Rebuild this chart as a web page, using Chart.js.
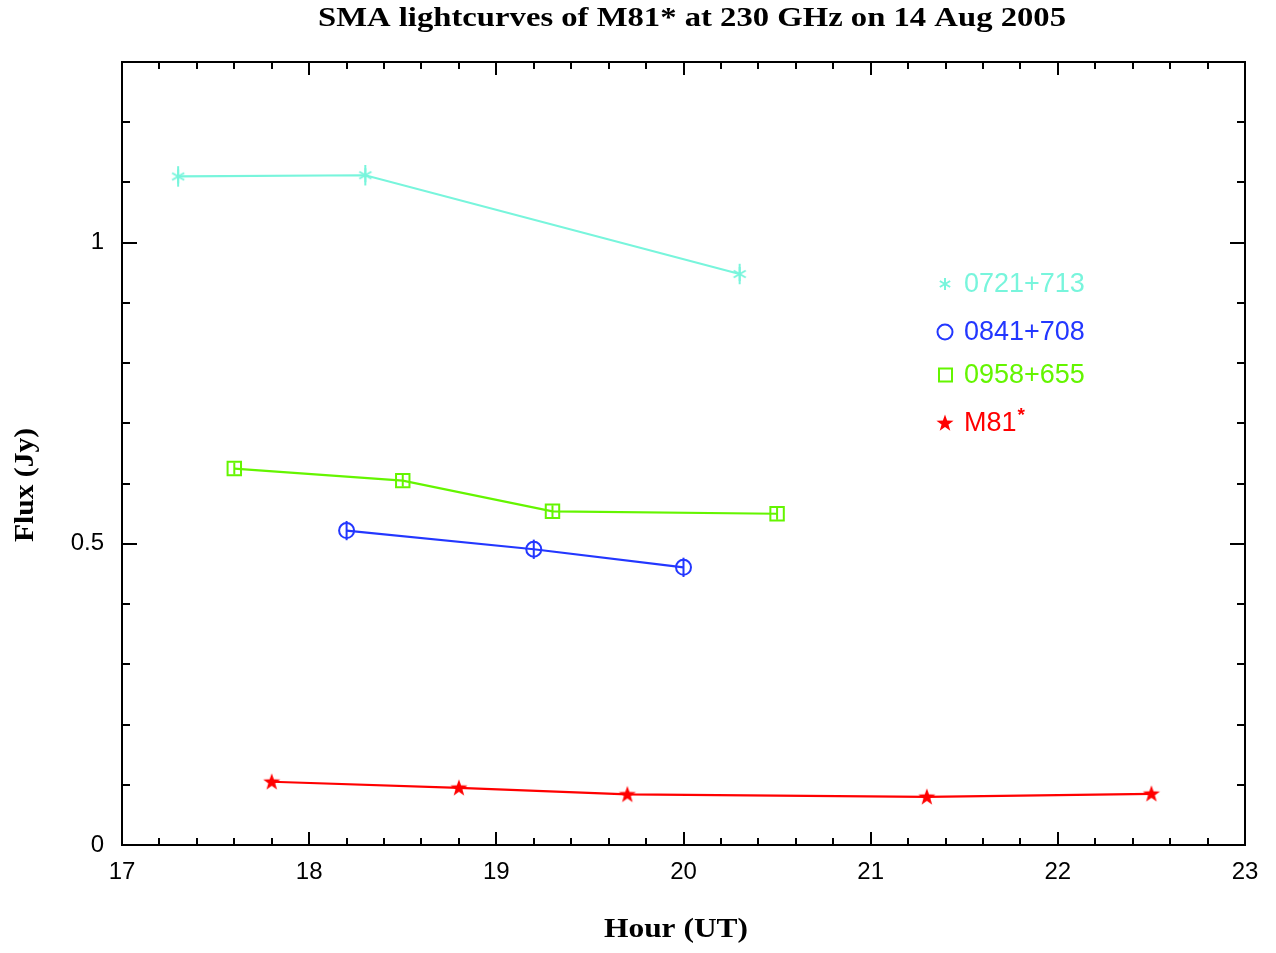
<!DOCTYPE html>
<html>
<head>
<meta charset="utf-8">
<script src="https://cdn.jsdelivr.net/npm/chart.js@4.4.0/dist/chart.umd.min.js"></script>
<style>
  body { margin: 0; background: #fff; }
  #lc { display: block; }
</style>
</head>
<body>
<canvas id="lc" width="1276" height="953"></canvas>
<script>
// light curves, flux in Jy vs hour UT
var hours0721 = [17.3, 18.3, 20.3]
var flux0721 = [1.110, 1.112, 0.948]
var err0721 = [0.017, 0.017, 0.017]

var hours0841 = [18.2, 19.2, 20.0]
var flux0841 = [0.522, 0.491, 0.461]
var err0841 = [0.016, 0.016, 0.016]

var hours0958 = [17.6, 18.5, 19.3, 20.5]
var flux0958 = [0.625, 0.605, 0.554, 0.550]
var err0958 = [0.010, 0.010, 0.010, 0.010]

var hoursM81 = [17.8, 18.8, 19.7, 21.3, 22.5]
var fluxM81 = [0.105, 0.095, 0.084, 0.080, 0.085]
var errM81 = [0.005, 0.005, 0.005, 0.005, 0.005]

var xTicks = [17, 18, 19, 20, 21, 22, 23]
var yTicks = [0, 0.5, 1]

var cCyan = 'rgb(120,245,220)'
var cBlue = 'rgb(35,55,255)'
var cGreen = 'rgb(100,245,0)'
var cRed = 'rgb(255,0,0)'

var sans = "'Liberation Sans', Arial, sans-serif"
var serif = "'Liberation Serif', 'Times New Roman', serif"

function asterisk(color, r){
    var s = Math.ceil(r * 2 + 4)
    var c = document.createElement('canvas')
    c.width = s; c.height = s
    var g = c.getContext('2d')
    g.strokeStyle = color
    g.lineWidth = 2
    ;[90, 30, 150].forEach(function(a){
        var t = a * Math.PI / 180
        g.beginPath()
        g.moveTo(s / 2 - r * Math.cos(t), s / 2 - r * Math.sin(t))
        g.lineTo(s / 2 + r * Math.cos(t), s / 2 + r * Math.sin(t))
        g.stroke()
    })
    return c
}

function star(color){
    var c = document.createElement('canvas')
    c.width = 20; c.height = 20
    var g = c.getContext('2d')
    g.fillStyle = color
    g.beginPath()
    for (var i = 0; i < 10; i++) {
        var r = i % 2 ? 3.6 : 9
        var t = -Math.PI / 2 + i * Math.PI / 5
        g.lineTo(10 + r * Math.cos(t), 10.5 + r * Math.sin(t))
    }
    g.closePath()
    g.fill()
    return c
}

function pts(xs, ys){
    return xs.map(function(x, i){ return {x: x, y: ys[i]} })
}

function series(label, xs, ys, err, color, style, radius){
    return {
        label: label,
        data: pts(xs, ys),
        err: err,
        borderColor: color,
        backgroundColor: 'transparent',
        pointBorderColor: color,
        pointBackgroundColor: 'transparent',
        pointStyle: style,
        pointRadius: radius,
        pointBorderWidth: 2,
        borderWidth: 2.2,
        showLine: true,
        tension: 0
    }
}

var datasets = [
    series('0721+713', hours0721, flux0721, err0721, cCyan, asterisk(cCyan, 7), 8),
    series('0841+708', hours0841, flux0841, err0841, cBlue, 'circle', 7.5),
    series('0958+655', hours0958, flux0958, err0958, cGreen, 'rect', 9.5),
    series('M81*', hoursM81, fluxM81, errM81, cRed, star(cRed), 9)
]

var legendAsterisk = asterisk(cCyan, 6)

// frame, inward ticks on all four sides, titles, error bars and legend
var decor = {
    id: 'decor',
    afterDatasetsDraw: function(chart){
        var ctx = chart.ctx
        chart.data.datasets.forEach(function(ds){
            ctx.save()
            ctx.strokeStyle = ds.borderColor
            ctx.lineWidth = 2
            ds.data.forEach(function(p, i){
                var x = chart.scales.x.getPixelForValue(p.x)
                var y0 = chart.scales.y.getPixelForValue(p.y - ds.err[i])
                var y1 = chart.scales.y.getPixelForValue(p.y + ds.err[i])
                ctx.beginPath()
                ctx.moveTo(x, y0)
                ctx.lineTo(x, y1)
                ctx.stroke()
            })
            ctx.restore()
        })
    },
    afterDraw: function(chart){
        var ctx = chart.ctx
        var a = chart.chartArea
        var sx = chart.scales.x, sy = chart.scales.y
        ctx.save()
        ctx.strokeStyle = '#000'
        ctx.lineWidth = 2
        ctx.strokeRect(a.left, a.top, a.right - a.left, a.bottom - a.top)

        ctx.beginPath()
        for (var i = 0; i <= 30; i++) {
            var x = Math.round(sx.getPixelForValue(17 + i * 0.2))
            var len = i % 5 == 0 ? 13 : 7
            ctx.moveTo(x, a.bottom); ctx.lineTo(x, a.bottom - len)
            ctx.moveTo(x, a.top); ctx.lineTo(x, a.top + len)
        }
        for (var j = 0; j <= 13; j++) {
            var y = Math.round(sy.getPixelForValue(j * 0.1))
            var ylen = j % 5 == 0 ? 15 : 8
            ctx.moveTo(a.left, y); ctx.lineTo(a.left + ylen, y)
            ctx.moveTo(a.right, y); ctx.lineTo(a.right - ylen, y)
        }
        ctx.stroke()

        // title and axis titles
        ctx.fillStyle = '#000'
        ctx.textAlign = 'center'
        ctx.textBaseline = 'middle'
        ctx.font = 'bold 27px ' + serif
        var title = 'SMA lightcurves of M81* at 230 GHz on 14 Aug 2005'
        var w = ctx.measureText(title).width
        ctx.save()
        ctx.translate(692, 19)
        ctx.scale(748 / w, 1)
        ctx.fillText(title, 0, 0)
        ctx.restore()

        var xt = 'Hour (UT)'
        var xw = ctx.measureText(xt).width
        ctx.save()
        ctx.translate(676, 930)
        ctx.scale(144 / xw, 1)
        ctx.fillText(xt, 0, 0)
        ctx.restore()

        var yt = 'Flux (Jy)'
        var yw = ctx.measureText(yt).width
        ctx.save()
        ctx.translate(26, 485)
        ctx.rotate(-Math.PI / 2)
        ctx.scale(114 / yw, 1)
        ctx.fillText(yt, 0, 0)
        ctx.restore()

        // legend inside the plot
        var rows = [284, 332, 375, 423]
        ctx.textAlign = 'left'
        ctx.font = '27px ' + sans
        chart.data.datasets.forEach(function(ds, di){
            var ly = rows[di]
            var st = ds.pointStyle
            ctx.strokeStyle = ds.borderColor
            ctx.fillStyle = ds.borderColor
            ctx.lineWidth = 2
            if (st === 'circle') {
                ctx.beginPath()
                ctx.arc(945, ly, 7.5, 0, Math.PI * 2)
                ctx.stroke()
            } else if (st === 'rect') {
                ctx.strokeRect(939, ly - 6.5, 13, 13)
            } else {
                if (di === 0) st = legendAsterisk
                ctx.drawImage(st, 945 - st.width / 2, ly - st.height / 2)
            }
            var name = ds.label.replace('*', '')
            ctx.fillText(name, 964, ly + 1)
            if (ds.label.indexOf('*') > -1) {
                var nw = ctx.measureText(name).width
                ctx.font = 'bold 19px ' + sans
                ctx.fillText('*', 964 + nw + 1, ly - 7)
                ctx.font = '27px ' + sans
            }
        })
        ctx.restore()
    }
}

var ctx = document.getElementById('lc').getContext('2d')
var lcChart = new Chart(ctx, {
    type: 'scatter',
    data: { datasets: datasets },
    options: {
        responsive: false,
        animation: false,
        layout: { padding: { left: 0, right: 31, top: 62, bottom: 0 } },
        plugins: {
            legend: { display: false },
            tooltip: { enabled: false }
        },
        scales: {
            x: {
                type: 'linear',
                min: 17,
                max: 23,
                afterFit: function(s){ s.height = 108 },
                afterBuildTicks: function(s){ s.ticks = xTicks.map(function(v){ return {value: v} }) },
                grid: { display: false, drawTicks: false },
                border: { display: false },
                ticks: {
                    color: '#000',
                    padding: 13,
                    maxRotation: 0,
                    font: { family: sans, size: 24 },
                    callback: function(v){ return String(v) }
                }
            },
            y: {
                type: 'linear',
                min: 0,
                max: 1.3,
                afterFit: function(s){ s.width = 122 },
                afterBuildTicks: function(s){ s.ticks = yTicks.map(function(v){ return {value: v} }) },
                grid: { display: false, drawTicks: false },
                border: { display: false },
                ticks: {
                    color: '#000',
                    padding: 18,
                    font: { family: sans, size: 24 },
                    callback: function(v){ return String(v) }
                }
            }
        }
    },
    plugins: [decor]
})
</script>
</body>
</html>
